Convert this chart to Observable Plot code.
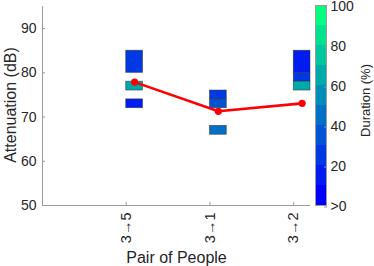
<!DOCTYPE html>
<html>
<head>
<meta charset="utf-8">
<script src="https://cdn.jsdelivr.net/npm/d3@7"></script>
<script src="https://cdn.jsdelivr.net/npm/@observablehq/plot@0.6"></script>
<style>
  body { margin: 0; background: #fff; }
  #wrap { position: relative; width: 374px; height: 266px; }
  #wrap svg { position: absolute; left: 0; top: 0; }
</style>
</head>
<body>
<div id="wrap"></div>
<script>
// ---- data ----
const pairs = ["3→5", "3→1", "3→2"];
const pairPos = [1, 2, 3];
const segPair = [0, 0, 0, 1, 1, 1, 2, 2, 2];
const segLow = [80, 76, 72, 74, 72, 66, 80, 78, 76];
const segHigh = [85, 78, 74, 76, 74, 68, 85, 80, 78];
const segDuration = [25, 65, 15, 25, 35, 45, 15, 25, 65];
const meanAtten = [77.9, 71.3, 73.1];
const yTicks = [50, 60, 70, 80, 90];
const cbTicks = [0, 20, 40, 60, 80, 100];
const cbLevels = [0, 10, 20, 30, 40, 50, 60, 70, 80, 90];

// winter colormap, 10 levels
const winter = cbLevels.map((_, k) => {
  const t = k / 9;
  return d3.rgb(0, Math.round(255 * t), Math.round(255 * (1 - 0.5 * t))).formatHex();
});
const colorScale = {type: "threshold", domain: cbLevels.slice(1), range: winter};

const segments = segPair.map((p, i) => ({pos: pairPos[p], lo: segLow[i], hi: segHigh[i], dur: segDuration[i]}));
const means = meanAtten.map((v, i) => ({pos: pairPos[i], v}));
const boxW = 0.2;

const font = "'Liberation Sans', Arial, Helvetica, sans-serif";
const axisGray = "#9a9a9a";
const textCol = "#262626";

const main = Plot.plot({
  width: 374, height: 266,
  marginLeft: 42, marginRight: 64, marginTop: 6, marginBottom: 61,
  x: {domain: [0, 3.2], axis: null},
  y: {domain: [50, 95], axis: null},
  color: colorScale,
  style: {fontFamily: font, color: textCol, background: "transparent", overflow: "visible"},
  marks: [
    Plot.ruleX([0], {stroke: axisGray}),
    Plot.ruleY([50], {stroke: axisGray}),
    Plot.axisY({ticks: yTicks, tickSize: -3, tickPadding: 9, fontSize: 14, stroke: axisGray, label: null, color: textCol}),
    Plot.axisX({ticks: pairPos, tickFormat: (d) => pairs[d - 1], tickRotate: -90, tickSize: -3, tickPadding: 10, fontSize: 14.5, stroke: axisGray, label: null}),
    Plot.rect(segments, {x1: "pos", x2: (d) => d.pos + boxW, y1: "lo", y2: "hi", fill: "dur", stroke: "#333", strokeWidth: 0.7, strokeOpacity: 0.75}),
    Plot.line(means, {x: (d) => d.pos + boxW / 2, y: "v", stroke: "#ff0000", strokeWidth: 2.6}),
    Plot.dot(means, {x: (d) => d.pos + boxW / 2, y: "v", r: 3.6, fill: "#ff0000"}),
    Plot.text(["Attenuation (dB)"], {frameAnchor: "left", dx: -32, dy: -1, rotate: -90, fontSize: 16, fill: textCol, textAnchor: "middle", lineAnchor: "middle"}),
    Plot.text(["Pair of People"], {frameAnchor: "bottom", dy: 52, fontSize: 16, fill: textCol, textAnchor: "middle", lineAnchor: "middle"})
  ]
});

const cbData = cbLevels.map((l) => ({lo: l, hi: l + 10, c: l + 5}));
const cbar = Plot.plot({
  width: 374, height: 266,
  marginLeft: 315, marginRight: 48, marginTop: 5, marginBottom: 61,
  x: {domain: [0, 1], axis: null},
  y: {domain: [0, 100], axis: null},
  color: colorScale,
  style: {fontFamily: font, color: textCol, background: "transparent", overflow: "visible"},
  marks: [
    Plot.rect(cbData, {x1: 0, x2: 1, y1: "lo", y2: "hi", fill: "c"}),
    Plot.frame({stroke: axisGray}),
    Plot.axisY({anchor: "right", ticks: cbTicks, tickFormat: (d) => d === 0 ? ">0" : d, tickSize: -3, tickPadding: 7, fontSize: 14, stroke: axisGray, label: null, dy: 1.5}),
    Plot.text(["Duration (%)"], {frameAnchor: "right", dx: 39, dy: -5, rotate: -90, fontSize: 13, fill: textCol, textAnchor: "middle", lineAnchor: "middle"})
  ]
});

document.getElementById("wrap").append(main, cbar);
</script>
</body>
</html>
